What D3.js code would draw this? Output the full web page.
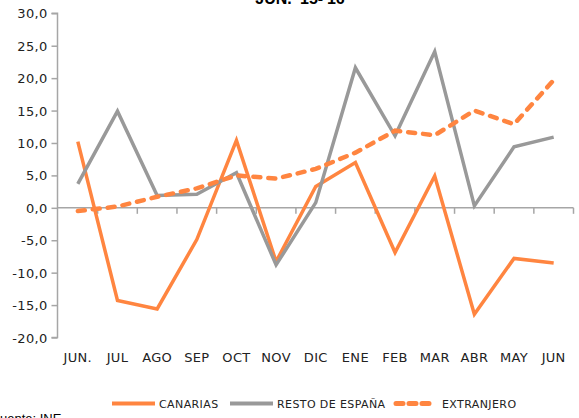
<!DOCTYPE html>
<html><head><meta charset="utf-8">
<script src="https://cdn.jsdelivr.net/npm/d3@7"></script>
<style>
html,body{margin:0;padding:0;background:#fff;overflow:hidden;}
text{font-family:"DejaVu Sans",sans-serif;}
</style></head>
<body>
<svg id="c" width="579" height="418"></svg>
<script>
const categories = ["JUN.","JUL","AGO","SEP","OCT","NOV","DIC","ENE","FEB","MAR","ABR","MAY","JUN"];
const canarias = [10.2,-14.3,-15.6,-4.9,10.4,-8.3,3.3,7.0,-6.9,4.9,-16.4,-7.8,-8.5];
const restoEspana = [3.7,14.9,1.9,2.1,5.4,-8.8,0.8,21.6,11.1,24.1,0.3,9.4,10.9];
const extranjero = [-0.5,0.2,1.7,3.0,5.0,4.5,6.0,8.5,11.9,11.2,15.0,12.9,19.7];
const yTicks = [30,25,20,15,10,5,0,-5,-10,-15,-20];
const title = "JUN. '15-'16";
const source = "Fuente: INE";
const seriesNames = ["CANARIAS","RESTO DE ESPAÑA","EXTRANJERO"];

const svg = d3.select("#c");
const orange = "#FF8540", gray = "#999999", axisCol = "#A6A6A6";
const x = d3.scaleBand().domain(categories.map((d,i)=>i)).range([58,573.5]);
const y = d3.scaleLinear().domain([-20,30]).range([337.5,13.3]);
const fmt = v => d3.format(".1f")(v).replace(".",",").replace("−","-");

// y axis
const ya = svg.append("g").attr("transform","translate(57.5,0)")
  .call(d3.axisLeft(y).tickValues(yTicks).tickSize(6).tickPadding(4).tickFormat(fmt));
ya.select(".domain").attr("stroke",axisCol).attr("stroke-width",1.5).attr("d",`M-6,${y(30)}H0V${y(-20)}H-6`);
ya.selectAll(".tick line").attr("stroke",axisCol).attr("stroke-width",1.5);
ya.selectAll(".tick text").attr("font-size","13px").attr("fill","#222").attr("dy","0.35em").attr("letter-spacing","0.3px");

// zero axis with ticks
const xa = svg.append("g").attr("transform",`translate(0,${y(0)})`);
xa.append("line").attr("x1",58).attr("x2",573.5).attr("y1",0).attr("y2",0).attr("stroke",axisCol).attr("stroke-width",1.5);
const bounds = categories.map((d,i)=>x(i)).concat([x(categories.length-1)+x.bandwidth()]);
xa.selectAll("line.t").data(bounds.slice(1)).enter().append("line")
  .attr("x1",d=>d).attr("x2",d=>d).attr("y1",0).attr("y2",6).attr("stroke",axisCol).attr("stroke-width",1.5);

// x labels
svg.append("g").selectAll("text").data(categories).enter().append("text")
  .attr("x",(d,i)=>x(i)+x.bandwidth()/2).attr("y",362).attr("text-anchor","middle")
  .attr("font-size","13px").attr("fill","#222").attr("letter-spacing","0.3px").text(d=>d);

const line = d3.line().x((d,i)=>x(i)+x.bandwidth()/2).y(d=>y(d));
svg.append("path").datum(canarias).attr("d",line).attr("fill","none").attr("stroke",orange).attr("stroke-width",3.5).attr("stroke-linejoin","miter");
svg.append("path").datum(restoEspana).attr("d",line).attr("fill","none").attr("stroke",gray).attr("stroke-width",3.5);
svg.append("path").datum(extranjero).attr("d",line).attr("fill","none").attr("stroke",orange).attr("stroke-width",4.5)
  .attr("stroke-dasharray","7,8").attr("stroke-linecap","round");

// title
svg.append("text").attr("x",300).attr("y",3.5).attr("text-anchor","middle").attr("font-weight","bold")
  .attr("font-size","16px").attr("fill","#000").style("font-family","'Liberation Sans',Arial,sans-serif").text(title);

// legend
const lg = svg.append("g");
const items = [
  {name:seriesNames[0], x1:112, x2:155, tx:159, col:orange, dash:null, w:4},
  {name:seriesNames[1], x1:230, x2:273, tx:277, col:gray, dash:null, w:4},
  {name:seriesNames[2], x1:396, x2:432, tx:442, col:orange, dash:"7,6", w:5}
];
items.forEach(it=>{
  const l = lg.append("line").attr("x1",it.x1).attr("x2",it.x2).attr("y1",403.5).attr("y2",403.5)
    .attr("stroke",it.col).attr("stroke-width",it.w);
  if(it.dash){l.attr("stroke-dasharray",it.dash).attr("stroke-linecap","round");}
  lg.append("text").attr("x",it.tx).attr("y",408).attr("font-size","11px").attr("fill","#222")
    .attr("letter-spacing","0.4px").text(it.name);
});

// source
svg.append("text").attr("x",-8).attr("y",423).attr("font-size","13px").attr("fill","#000")
  .style("font-family","'Liberation Sans',Arial,sans-serif").text(source);
</script>
</body></html>
